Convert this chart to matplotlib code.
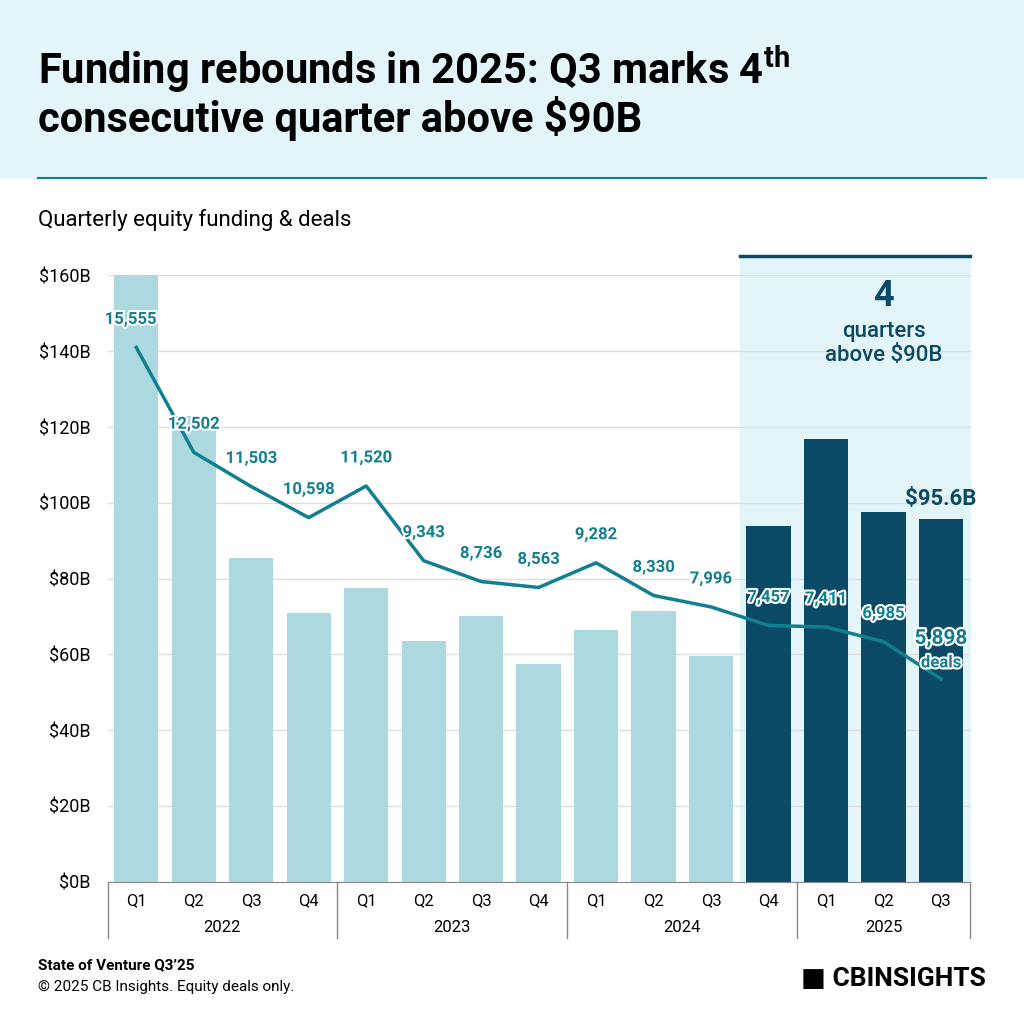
import numpy as np
import matplotlib.pyplot as plt
import matplotlib.patheffects as pe
from matplotlib.patches import Rectangle

quarters = ["Q1", "Q2", "Q3", "Q4"] * 3 + ["Q1", "Q2", "Q3"]
years = ["2022", "2023", "2024", "2025"]
funding = [165, 123, 85.5, 70.8, 77.5, 63.5, 70, 57.5, 66.5, 71.5, 59.5, 94, 116.8, 97.5, 95.6]
deals = [15555, 12502, 11503, 10598, 11520, 9343, 8736, 8563, 9282, 8330, 7996, 7457, 7411, 6985, 5898]
highlight_from = 11

LIGHT = "#acd8df"
DARK = "#0b4a66"
TEAL = "#127f91"
BAND = "#e4f5fa"

plt.rcParams["font.family"] = ["Roboto", "DejaVu Sans"]
fig = plt.figure(figsize=(10.24, 10.24), dpi=100)

# title band
fig.patches.append(Rectangle((0, 1 - 178 / 1024), 1, 178 / 1024, transform=fig.transFigure,
                             color=BAND, zorder=0))
fig.add_artist(plt.Line2D([0.037, 0.963], [1 - 178 / 1024] * 2, color=TEAL, lw=1.5))
fig.text(0.037, 0.932, "Funding rebounds in 2025: Q3 marks 4$^{\\mathregular{th}}$",
         fontsize=30, fontweight="bold", va="center")
fig.text(0.037, 0.884, "consecutive quarter above $90B", fontsize=30, fontweight="bold", va="center")
fig.text(0.037, 0.785, "Quarterly equity funding & deals", fontsize=16, va="center")

ax = fig.add_axes([0.105, 0.139, 0.842, 0.592])
x = np.arange(len(funding))
ax.add_patch(Rectangle((highlight_from - 0.5, 0), 4, 165, color=BAND, zorder=0, clip_on=False))
ax.plot([highlight_from - 0.5, 14.5], [165.2, 165.2], color=DARK, lw=2.5, clip_on=False)
colors = [DARK if i >= highlight_from else LIGHT for i in x]
ax.bar(x, funding, width=0.77, color=colors, zorder=2)
ax.set_ylim(0, 160)
ax.set_xlim(-0.5, 14.5)
ax.set_yticks(np.arange(0, 161, 20))
ax.set_yticklabels([f"${v}B" for v in range(0, 161, 20)], fontsize=13)
ax.yaxis.grid(True, color="#dddddd", lw=1, zorder=0)
ax.set_axisbelow(True)
for s in ["top", "right", "left"]:
    ax.spines[s].set_visible(False)
ax.spines["bottom"].set_color("#888888")
ax.tick_params(axis="y", length=0, pad=12)
ax.set_xticks(x)
ax.set_xticklabels(quarters, fontsize=12)
ax.tick_params(axis="x", length=0, pad=8)

# year groups
bounds = [-0.5, 3.5, 7.5, 11.5, 14.5]
for b in bounds:
    ax.plot([b, b], [0, -15], color="#888888", lw=1, clip_on=False)
for i, yr in enumerate(years):
    ax.text((bounds[i] + bounds[i + 1]) / 2, -12, yr, ha="center", va="center", fontsize=12)

ax.text(13, 154.5, "4", ha="center", va="center", fontsize=26, fontweight="bold", color=DARK)
ax.text(13, 142, "quarters\nabove $90B", ha="center", va="center", fontsize=16,
        fontweight="medium", color=DARK, linespacing=1.2)
ax.text(14, 98, "$95.6B", ha="center", va="bottom", fontsize=16, fontweight="bold", color=DARK)

ax2 = ax.twinx()
ax2.set_ylim(-7, 17653)
ax2.axis("off")
ax2.plot(x, deals, color=TEAL, lw=2.5, zorder=3)
stroke = [pe.withStroke(linewidth=3, foreground="white")]
for i, d in enumerate(deals):
    fs = 15 if i == 14 else 12
    ax2.text(i - 0.1 if i == 0 else i, d + 600 if i != 14 else d + 900, f"{d:,}", ha="center",
             va="bottom", fontsize=fs, fontweight="bold", color=TEAL, path_effects=stroke)
ax2.text(14, deals[-1] + 250, "deals", ha="center", va="bottom", fontsize=12,
         fontweight="bold", color=TEAL, path_effects=stroke)

fig.text(0.037, 0.053, "State of Venture Q3\u201925", fontsize=11, fontweight="bold")
fig.text(0.037, 0.032, "\u00a9 2025 CB Insights. Equity deals only.", fontsize=11)
fig.text(0.963, 0.044, "\u25a0 CBINSIGHTS", fontsize=19, fontweight="bold", ha="right", va="center")

fig.savefig("out.png", dpi=100)
